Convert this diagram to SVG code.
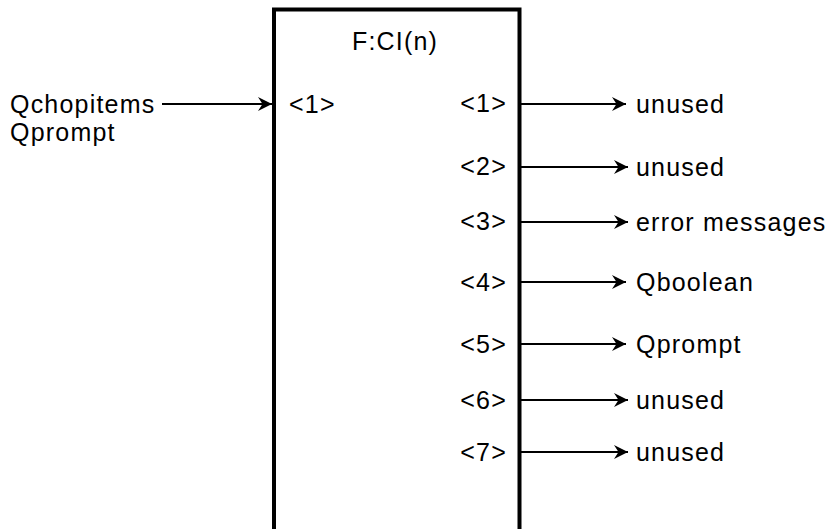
<svg xmlns="http://www.w3.org/2000/svg" width="834" height="529" viewBox="0 0 834 529">
<defs>
<style>
text{font-family:"Liberation Sans",Arial,Helvetica,sans-serif;font-size:25px;fill:#000;letter-spacing:1.2px}
.r{text-anchor:end}
.ln{stroke:#000;stroke-width:2;fill:none}
.box{stroke:#000;stroke-width:4;fill:#fff}
</style>
<marker id="ah" markerUnits="userSpaceOnUse" markerWidth="16" markerHeight="16" viewBox="-15 -8 16 16" refX="0" refY="0" orient="auto">
<path d="M0,0 L-14,-7 L-9.5,0 L-14,7 Z" fill="#000"/>
</marker>
</defs>
<rect width="834" height="529" fill="#fff"/>
<g id="block">
<path class="box" d="M274,535 V9.5 H519.5 V535"/>
<text x="395" y="50" text-anchor="middle">F:CI(n)</text>
<text x="289" y="113">&lt;1&gt;</text>
<text class="r" x="507" y="112">&lt;1&gt;</text>
<text class="r" x="507" y="175">&lt;2&gt;</text>
<text class="r" x="507" y="230">&lt;3&gt;</text>
<text class="r" x="507" y="291">&lt;4&gt;</text>
<text class="r" x="507" y="353">&lt;5&gt;</text>
<text class="r" x="507" y="409">&lt;6&gt;</text>
<text class="r" x="507" y="461">&lt;7&gt;</text>
</g>
<g id="input">
<text x="10" y="113">Qchopitems</text>
<text x="10" y="141">Qprompt</text>
</g>
<g id="outputs">
<text x="636" y="113">unused</text>
<text x="636" y="176">unused</text>
<text x="636" y="231">error messages</text>
<text x="636" y="291">Qboolean</text>
<text x="636" y="353">Qprompt</text>
<text x="636" y="409">unused</text>
<text x="636" y="461">unused</text>
</g>
<g id="connectors">
<line class="ln" x1="162" y1="104" x2="272" y2="104" marker-end="url(#ah)"/>
<line class="ln" x1="521" y1="104" x2="626" y2="104" marker-end="url(#ah)"/>
<line class="ln" x1="521" y1="167" x2="628" y2="167" marker-end="url(#ah)"/>
<line class="ln" x1="521" y1="222" x2="628" y2="222" marker-end="url(#ah)"/>
<line class="ln" x1="521" y1="282" x2="626" y2="282" marker-end="url(#ah)"/>
<line class="ln" x1="521" y1="344" x2="626" y2="344" marker-end="url(#ah)"/>
<line class="ln" x1="521" y1="400" x2="628" y2="400" marker-end="url(#ah)"/>
<line class="ln" x1="521" y1="452" x2="628" y2="452" marker-end="url(#ah)"/>
</g>
</svg>
